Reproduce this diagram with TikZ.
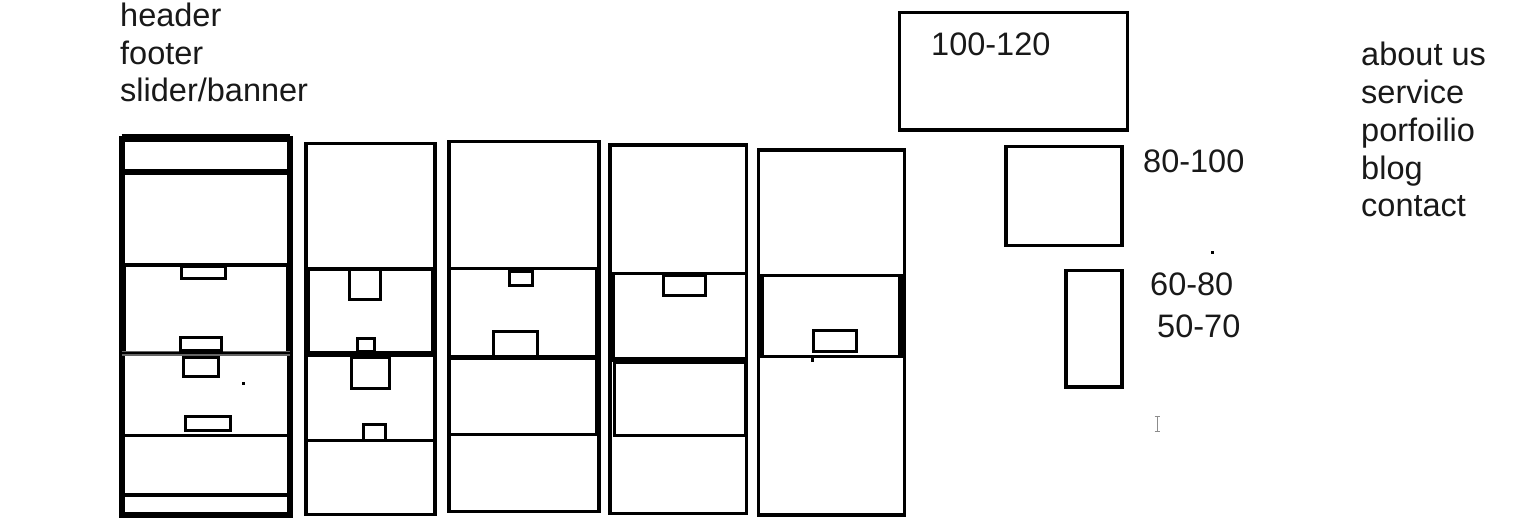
\documentclass[tikz,border=0pt]{standalone}
\usepackage{fontspec}
\setmainfont{Liberation Sans}
\begin{document}
\begin{tikzpicture}[x=1pt,y=-1pt,
  frame/.style={draw=black,line width=3.5pt},
  thick frame/.style={draw=black,line width=6pt},
  lbl/.style={anchor=base west,inner sep=0pt,font=\fontsize{32.5}{38}\selectfont,text=black!90}]
\useasboundingbox[fill=white] (0,0) rectangle (1533,530);
% labels left
\node[lbl] (t1) at (120,26) {header};
\node[lbl] (t2) at (120,64) {footer};
\node[lbl] (t3) at (120,101) {slider/banner};
% labels right
\node[lbl] (r1) at (1361,65) {about us};
\node[lbl] (r2) at (1361,103) {service};
\node[lbl] (r3) at (1361,141) {porfoilio};
\node[lbl] (r4) at (1361,179) {blog};
\node[lbl] (r5) at (1361,216) {contact};
% size labels
\node[lbl] (s1) at (931,55) {100-120};
\node[lbl] (s2) at (1143,172) {80-100};
\node[lbl] (s3) at (1150,295) {60-80};
\node[lbl] (s4) at (1157,337) {50-70};
% ---------- column 1
\draw[thick frame] (121.5,138.5) rectangle (289.5,514.5);
\draw[line width=7pt] (121.5,137.5) -- (289.5,137.5);
\draw[thick frame] (121.5,171.5) -- (289.5,171.5);
\draw[frame,line width=4pt] (124,264.5) rectangle (288,353);
\draw[draw=black!60,line width=4.5pt] (121.5,353.5) -- (289.5,353.5);
\draw[draw=black,line width=2pt] (121.5,352.5) -- (289.5,352.5);
\draw[frame] (121.5,435.5) -- (289.5,435.5);
\draw[frame,line width=4.5pt] (121.5,495) -- (289.5,495);
\draw[frame,line width=3pt] (181.5,266.5) rectangle (225.5,278.5);
\draw[frame,line width=3pt] (180.5,337.5) rectangle (221.5,350);
\draw[frame,line width=3pt] (183.5,357) rectangle (218.5,376.5);
\draw[frame,line width=3pt] (185.5,416.5) rectangle (230.5,430);
\fill (241.5,381.5) rectangle (244.5,384.5);
% ---------- column 2
\draw[frame] (306,143.5) rectangle (435,514.5);
\draw[frame,line width=4pt] (307.5,268.5) rectangle (433,353.5);
\draw[line width=6pt] (306,353.5) -- (435,353.5);
\draw[frame] (306,440.5) -- (435,440.5);
\draw[frame,line width=3pt] (349.5,268.5) rectangle (380.5,299);
\draw[frame,line width=3pt] (357,338.5) rectangle (374.5,351);
\draw[frame,line width=3pt] (351,357) rectangle (389,388.5);
\draw[frame,line width=3pt] (363,424.5) rectangle (385.5,440);
% ---------- column 3
\draw[frame] (449,141.5) rectangle (599,511.5);
\draw[frame] (449,268.5) -- (599,268.5);
\draw[line width=5pt] (597,268.5) -- (597,435);
\draw[line width=5pt] (449,357.5) -- (599,357.5);
\draw[frame,line width=3pt] (449,434.5) -- (599,434.5);
\draw[frame,line width=3pt] (509,271.5) rectangle (532.5,285.5);
\draw[frame,line width=3pt] (493,331) rectangle (537.5,356);
% ---------- column 4
\draw[frame] (610,145) rectangle (746.5,513.5);
\draw[frame] (610,273.5) -- (746.5,273.5);
\draw[line width=5pt] (612.5,273.5) -- (612.5,359.5);
\draw[line width=5pt] (610,359.5) -- (746.5,359.5);
\draw[frame,line width=3pt] (614,362) rectangle (745.5,435);
\draw[frame,line width=3pt] (663.5,275) rectangle (705,295.5);
% ---------- column 5
\draw[frame] (758.5,150) rectangle (904.5,515);
\draw[frame] (758.5,275.5) -- (904.5,275.5);
\draw[line width=5pt] (761.5,275.5) -- (761.5,356.5);
\draw[line width=5pt] (900.5,275.5) -- (900.5,356.5);
\draw[frame] (758.5,356.5) -- (904.5,356.5);
\draw[frame,line width=3pt] (813,330.5) rectangle (856.5,351);
\fill (810.5,357) rectangle (813.5,361.5);
% ---------- right boxes
\draw[frame] (899.5,12.5) rectangle (1127.5,130);
\draw[frame] (1006,146.5) rectangle (1122,245.5);
\draw[frame] (1066,270.5) rectangle (1122,387);
\fill (1210.5,250.5) rectangle (1213.5,253.5);
% text cursor
\draw[black!45,line width=0.9pt] (1157,416) -- (1157,431)
  (1154.5,416) -- (1159.5,416) (1154.5,431) -- (1159.5,431);
\end{tikzpicture}
\end{document}
